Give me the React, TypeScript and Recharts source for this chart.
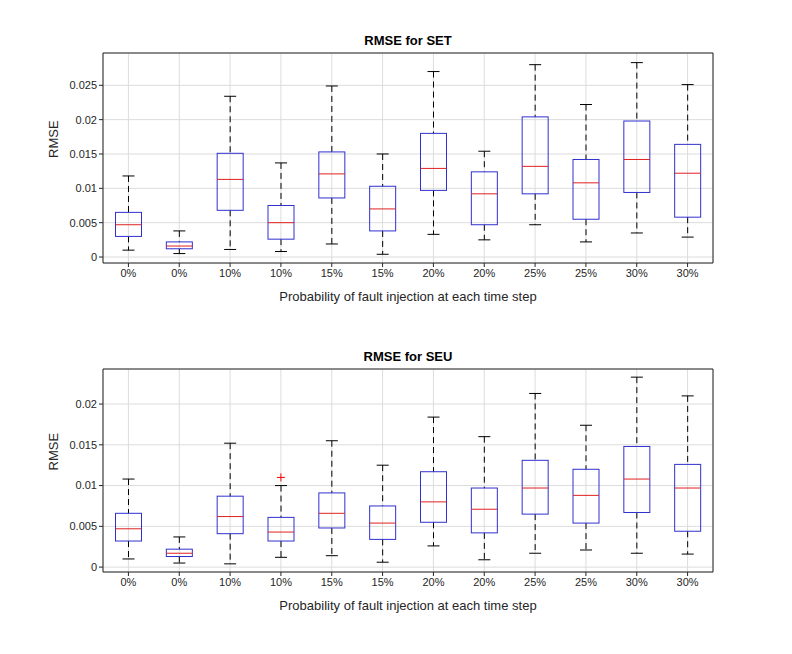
import React from "react";
import { ComposedChart, Bar, Scatter, XAxis, YAxis, CartesianGrid } from "recharts";

const labels = ["0%","0%","10%","10%","15%","15%","20%","20%","25%","25%","30%","30%"];
const setLo = [0.001,0.0005,0.0011,0.0008,0.0019,0.0004,0.0033,0.0025,0.0047,0.0022,0.0035,0.0029];
const setQ1 = [0.003,0.0012,0.0068,0.0026,0.0086,0.0038,0.0097,0.0047,0.0092,0.0055,0.0094,0.0058];
const setMed = [0.0047,0.0016,0.0113,0.005,0.0121,0.007,0.0129,0.0092,0.0132,0.0108,0.0142,0.0122];
const setQ3 = [0.0065,0.0022,0.0151,0.0075,0.0153,0.0103,0.018,0.0124,0.0204,0.0142,0.0198,0.0164];
const setHi = [0.0118,0.0038,0.0234,0.0137,0.0249,0.015,0.027,0.0154,0.028,0.0222,0.0283,0.0251];
const seuLo = [0.001,0.0005,0.0004,0.0012,0.0014,0.0006,0.0026,0.0009,0.0017,0.0021,0.0017,0.0016];
const seuQ1 = [0.0032,0.0013,0.0041,0.0032,0.0048,0.0034,0.0055,0.0042,0.0065,0.0054,0.0067,0.0044];
const seuMed = [0.0047,0.0017,0.0062,0.0043,0.0066,0.0054,0.008,0.0071,0.0097,0.0088,0.0108,0.0097];
const seuQ3 = [0.0066,0.0022,0.0087,0.0061,0.0091,0.0075,0.0117,0.0097,0.0131,0.012,0.0148,0.0126];
const seuHi = [0.0108,0.0037,0.0152,0.01,0.0155,0.0125,0.0184,0.016,0.0213,0.0174,0.0233,0.021];
const seuOut: (number | null)[] = [null,null,null,0.011,null,null,null,null,null,null,null,null];
const setTicks = [0,0.005,0.01,0.015,0.02,0.025];
const seuTicks = [0,0.005,0.01,0.015,0.02];

const build = (lo: number[], q1: number[], med: number[], q3: number[], hi: number[], out?: (number|null)[]) =>
  labels.map((l, i) => ({ idx: i, lo: lo[i], q1: q1[i], med: med[i], q3: q3[i], hi: hi[i], range: [lo[i], hi[i]], out: out ? out[i] : null }));

const BoxShape = (p: any) => {
  const { x, y, width, height, payload } = p;
  const { lo, hi, q1, q3, med } = payload;
  const k = height / (hi - lo);
  const py = (v: number) => y + (hi - v) * k;
  const cx = x + width / 2;
  const bw = 26;
  const cw = 12;
  return (
    <g>
      <line x1={cx} x2={cx} y1={py(hi)} y2={py(q3)} stroke="#000" strokeDasharray="6 4" />
      <line x1={cx} x2={cx} y1={py(q1)} y2={py(lo)} stroke="#000" strokeDasharray="6 4" />
      <line x1={cx - cw / 2} x2={cx + cw / 2} y1={py(hi)} y2={py(hi)} stroke="#000" />
      <line x1={cx - cw / 2} x2={cx + cw / 2} y1={py(lo)} y2={py(lo)} stroke="#000" />
      <rect x={cx - bw / 2} y={py(q3)} width={bw} height={py(q1) - py(q3)} fill="none" stroke="#3030d0" />
      <line x1={cx - bw / 2} x2={cx + bw / 2} y1={py(med)} y2={py(med)} stroke="#e02020" />
    </g>
  );
};

const Plus = (p: any) => {
  if (p.payload.out == null) return null;
  const { cx, cy } = p;
  return (
    <g stroke="#ff0000">
      <line x1={cx - 4} x2={cx + 4} y1={cy} y2={cy} />
      <line x1={cx} x2={cx} y1={cy - 4} y2={cy + 4} />
    </g>
  );
};

const fmt = (v: number) => (v === 0 ? "0" : String(v));

const Panel = ({ data, ticks, domain, top, bottom, title }: any) => (
  <div style={{ position: "relative", width: 792, height: 327 }}>
    <div style={{ position: "absolute", top: top - 20, left: 103, width: 610, textAlign: "center", fontFamily: "Liberation Sans, Arial", fontWeight: "bold", fontSize: 13, color: "#000" }}>{title}</div>
    <div style={{ position: "absolute", top: 327 - bottom + 26, left: 103, width: 610, textAlign: "center", fontFamily: "Liberation Sans, Arial", fontSize: 13, color: "#262626" }}>Probability of fault injection at each time step</div>
    <ComposedChart width={792} height={327} data={data} margin={{ top: top - 1, bottom: bottom - 30, left: 43, right: 78 }} barCategoryGap={0}>
      <CartesianGrid stroke="#dcdcdc" />
      <XAxis dataKey="idx" type="category" height={30} tickFormatter={(i: number) => labels[i]} tick={{ fill: "#262626", fontSize: 11, fontFamily: "Liberation Sans, Arial" }} stroke="#262626" tickSize={4} />
      <XAxis xAxisId="t" dataKey="idx" orientation="top" tick={false} stroke="#262626" height={1} />
      <YAxis domain={domain} ticks={ticks} tickFormatter={fmt} type="number" allowDataOverflow width={60} stroke="#262626" tickSize={4}
        tick={{ fill: "#262626", fontSize: 11, fontFamily: "Liberation Sans, Arial" }}
        label={{ value: "RMSE", angle: -90, position: "insideLeft", offset: 10, fill: "#262626", fontSize: 13, fontFamily: "Liberation Sans, Arial" }} />
      <YAxis yAxisId="r" orientation="right" tick={false} stroke="#262626" width={1} domain={domain} />
      <Bar dataKey="range" shape={<BoxShape />} isAnimationActive={false} />
      <Scatter dataKey="out" shape={<Plus />} isAnimationActive={false} />
    </ComposedChart>
  </div>
);

export default function App() {
  return (
    <div style={{ position: "absolute", left: 0, top: 0, background: "#fff" }}>
      <Panel data={build(setLo, setQ1, setMed, setQ3, setHi)} ticks={setTicks} domain={[-0.00087, 0.0297]} top={53} bottom={64} title="RMSE for SET" />
      <Panel data={build(seuLo, seuQ1, seuMed, seuQ3, seuHi, seuOut)} ticks={seuTicks} domain={[-0.0006, 0.0243]} top={42} bottom={82} title="RMSE for SEU" />
    </div>
  );
}
